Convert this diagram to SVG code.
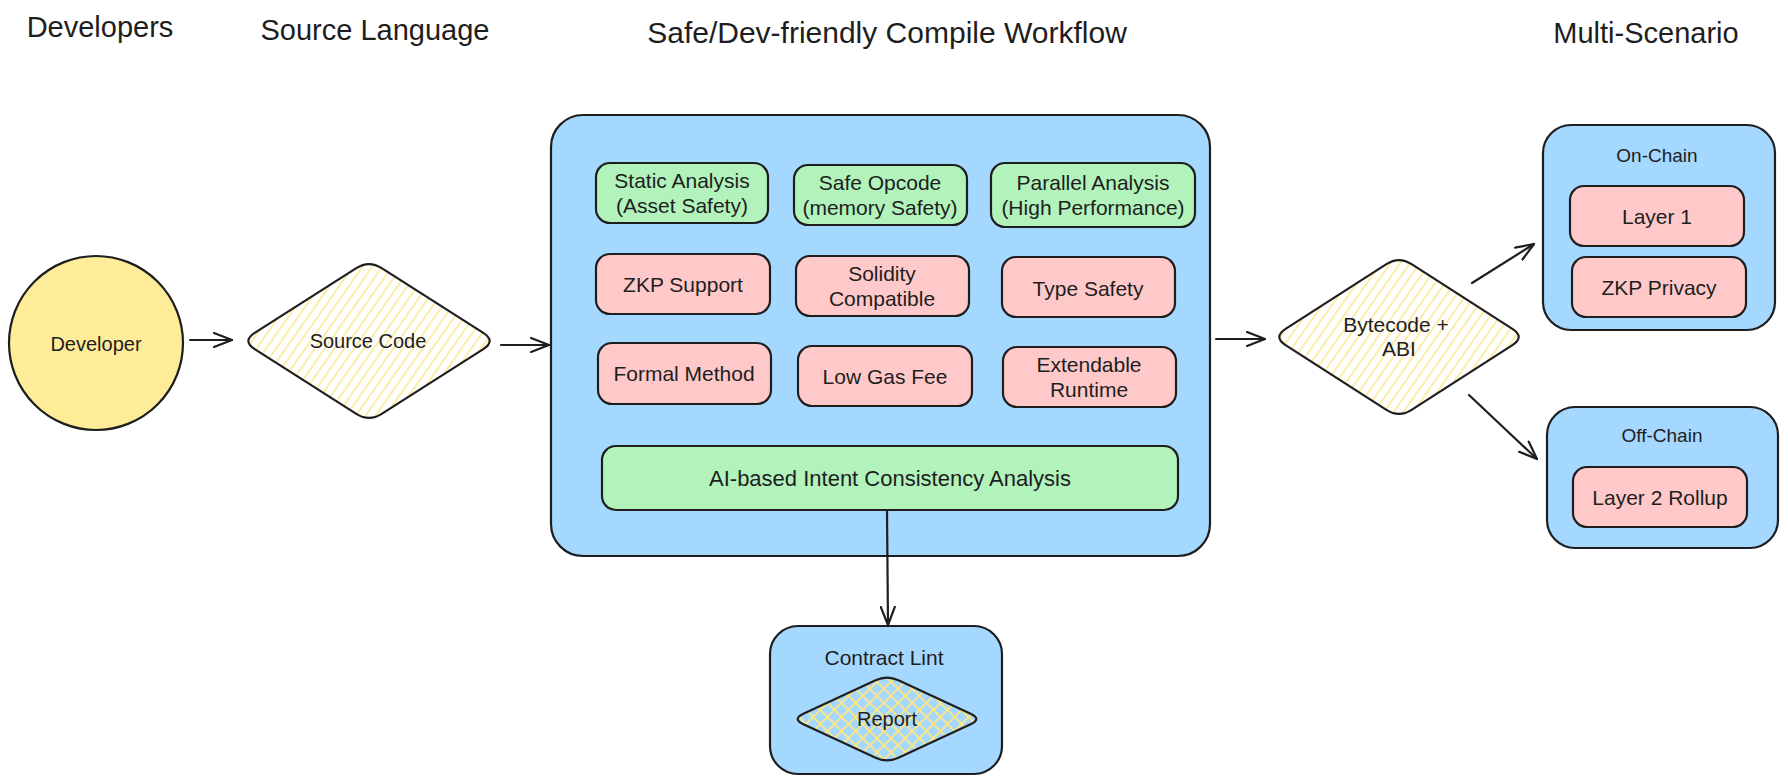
<svg xmlns="http://www.w3.org/2000/svg" width="1788" height="784" viewBox="0 0 1788 784">
<style>
  .title { font-family: "Liberation Sans", Arial, sans-serif; font-size: 29px; fill: #1e1e1e; text-anchor: middle; }
  .lbl { font-family: "Liberation Sans", Arial, sans-serif; font-size: 21px; fill: #1e1e1e; text-anchor: middle; dominant-baseline: central; }
  .sm { font-size: 20px; }
  .shape { stroke: #1e1e1e; stroke-width: 2.2; stroke-linejoin: round; }
  .blue { fill: #a5d8ff; }
  .green { fill: #b2f2bb; }
  .pink { fill: #ffc9c9; }
  .yellow { fill: #ffec99; }
  .conn { fill: none; stroke: #1e1e1e; stroke-width: 2.2; stroke-linecap: round; }
</style>
<defs>
  <pattern id="hatch" patternUnits="userSpaceOnUse" width="8" height="8" patternTransform="rotate(35)">
    <rect width="8" height="8" fill="#ffffff"/>
    <line x1="2" y1="0" x2="2" y2="8" stroke="#fde47f" stroke-width="1.4"/>
  </pattern>
  <pattern id="cross" patternUnits="userSpaceOnUse" width="10" height="10" patternTransform="rotate(45)">
    <line x1="2" y1="0" x2="2" y2="10" stroke="#ffe680" stroke-width="1.8"/>
    <line x1="0" y1="2" x2="10" y2="2" stroke="#ffe680" stroke-width="1.8"/>
  </pattern>
  <marker id="arrow" viewBox="0 0 20 16" refX="19" refY="8" markerWidth="20" markerHeight="16" markerUnits="userSpaceOnUse" orient="auto">
    <path d="M1,1 L19,8 L1,15" fill="none" stroke="#1e1e1e" stroke-width="2.2" stroke-linecap="round" stroke-linejoin="round"/>
  </marker>
</defs>

<rect width="1788" height="784" fill="#ffffff"/>

<g id="titles">
  <text class="title" x="100" y="37">Developers</text>
  <text class="title" x="375" y="40">Source Language</text>
  <text class="title" x="887" y="43" style="font-size:30px">Safe/Dev-friendly Compile Workflow</text>
  <text class="title" x="1646" y="43">Multi-Scenario</text>
</g>

<g id="developer">
  <circle class="shape yellow" cx="96" cy="343" r="87"/>
  <text class="lbl sm" x="96" y="344">Developer</text>
</g>

<g id="source-code">
  <path class="shape" fill="url(#hatch)" d="M254.7,332.9 L356.3,268.1 Q369,260 381.7,268.1 L483.3,332.9 Q496,341 483.3,349.1 L381.7,413.9 Q369,422 356.3,413.9 L254.7,349.1 Q242,341 254.7,332.9 Z"/>
  <text class="lbl sm" x="368" y="341">Source Code</text>
</g>

<g id="compile-workflow">
  <rect class="shape blue" x="551" y="115" width="659" height="441" rx="32"/>
</g>

<g id="static-analysis">
  <rect class="shape green" x="596" y="163" width="172" height="60" rx="14"/>
  <text class="lbl" x="682" y="180">Static Analysis</text>
  <text class="lbl" x="682" y="205">(Asset Safety)</text>
</g>
<g id="safe-opcode">
  <rect class="shape green" x="794" y="165" width="173" height="60" rx="14"/>
  <text class="lbl" x="880" y="182">Safe Opcode</text>
  <text class="lbl" x="880" y="207">(memory Safety)</text>
</g>
<g id="parallel-analysis">
  <rect class="shape green" x="991" y="163" width="204" height="64" rx="14"/>
  <text class="lbl" x="1093" y="182">Parallel Analysis</text>
  <text class="lbl" x="1093" y="207">(High Performance)</text>
</g>

<g id="zkp-support">
  <rect class="shape pink" x="596" y="254" width="174" height="60" rx="14"/>
  <text class="lbl" x="683" y="284">ZKP Support</text>
</g>
<g id="solidity-compatible">
  <rect class="shape pink" x="796" y="256" width="173" height="60" rx="14"/>
  <text class="lbl" x="882" y="273">Solidity</text>
  <text class="lbl" x="882" y="298">Compatible</text>
</g>
<g id="type-safety">
  <rect class="shape pink" x="1002" y="257" width="173" height="60" rx="14"/>
  <text class="lbl" x="1088" y="288">Type Safety</text>
</g>

<g id="formal-method">
  <rect class="shape pink" x="598" y="343" width="173" height="61" rx="14"/>
  <text class="lbl" x="684" y="373">Formal Method</text>
</g>
<g id="low-gas-fee">
  <rect class="shape pink" x="798" y="346" width="174" height="60" rx="14"/>
  <text class="lbl" x="885" y="376">Low Gas Fee</text>
</g>
<g id="extendable-runtime">
  <rect class="shape pink" x="1003" y="347" width="173" height="60" rx="14"/>
  <text class="lbl" x="1089" y="364">Extendable</text>
  <text class="lbl" x="1089" y="389">Runtime</text>
</g>

<g id="ai-intent">
  <rect class="shape green" x="602" y="446" width="576" height="64" rx="14"/>
  <text class="lbl" x="890" y="478" style="font-size:22px">AI-based Intent Consistency Analysis</text>
</g>

<g id="contract-lint">
  <rect class="shape blue" x="770" y="626" width="232" height="148" rx="28"/>
  <text class="lbl" x="884" y="657">Contract Lint</text>
</g>
<g id="report">
  <path class="shape" fill="url(#cross)" d="M803.4,713.7 L875.6,680.3 Q887,675 898.4,680.3 L970.6,713.7 Q982,719 970.6,724.3 L898.4,757.7 Q887,763 875.6,757.7 L803.4,724.3 Q792,719 803.4,713.7 Z"/>
  <text class="lbl sm" x="887" y="719">Report</text>
</g>

<g id="bytecode-abi">
  <path class="shape" fill="url(#hatch)" d="M1285.6,328.9 L1386.4,264.1 Q1399,256 1411.6,264.1 L1512.4,328.9 Q1525,337 1512.4,345.1 L1411.6,409.9 Q1399,418 1386.4,409.9 L1285.6,345.1 Q1273,337 1285.6,328.9 Z"/>
  <text class="lbl" x="1396" y="324">Bytecode +</text>
  <text class="lbl" x="1399" y="348">ABI</text>
</g>

<g id="on-chain">
  <rect class="shape blue" x="1543" y="125" width="232" height="205" rx="28"/>
  <text class="lbl" x="1657" y="155" style="font-size:19px">On-Chain</text>
</g>
<g id="layer-1">
  <rect class="shape pink" x="1570" y="186" width="174" height="60" rx="14"/>
  <text class="lbl" x="1657" y="216">Layer 1</text>
</g>
<g id="zkp-privacy">
  <rect class="shape pink" x="1572" y="257" width="174" height="60" rx="14"/>
  <text class="lbl" x="1659" y="287">ZKP Privacy</text>
</g>

<g id="off-chain">
  <rect class="shape blue" x="1547" y="407" width="231" height="141" rx="28"/>
  <text class="lbl" x="1662" y="435" style="font-size:19px">Off-Chain</text>
</g>
<g id="layer-2-rollup">
  <rect class="shape pink" x="1573" y="467" width="174" height="60" rx="14"/>
  <text class="lbl" x="1660" y="497">Layer 2 Rollup</text>
</g>

<g id="connectors">
  <path class="conn" marker-end="url(#arrow)" d="M190,340 L232,340"/>
  <path class="conn" marker-end="url(#arrow)" d="M501,345 L549,345"/>
  <path class="conn" marker-end="url(#arrow)" d="M1216,339 L1265,339"/>
  <path class="conn" marker-end="url(#arrow)" d="M1472,283 L1534,244"/>
  <path class="conn" marker-end="url(#arrow)" d="M1469,395 L1537,459"/>
  <path class="conn" marker-end="url(#arrow)" d="M887,511 L888,625"/>
</g>
</svg>
